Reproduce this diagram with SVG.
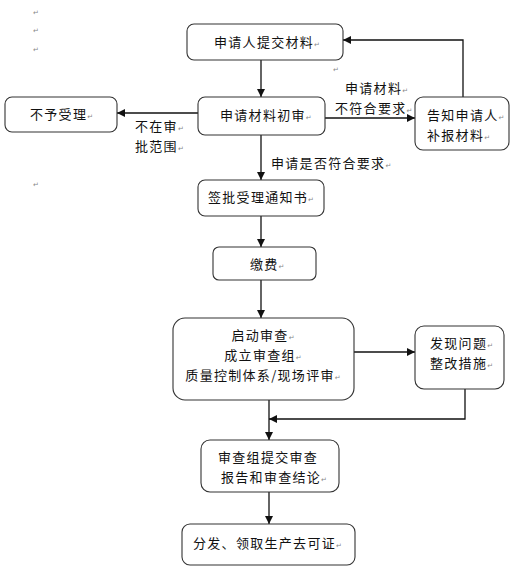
<svg xmlns="http://www.w3.org/2000/svg" width="531" height="580" viewBox="0 0 531 580">
<style>
.box{fill:#fff;stroke:#333;stroke-width:1.1}
.t{font-family:"Noto Sans CJK SC","Noto Sans",sans-serif;font-size:13px;fill:#111;letter-spacing:1.3px}
.m{font-family:"DejaVu Sans",sans-serif;font-size:7px;fill:#888;letter-spacing:0}
.ln{fill:none;stroke:#111;stroke-width:1.3}
</style>
<defs>
<marker id="ah" viewBox="0 0 10 10" refX="10" refY="5" markerWidth="8" markerHeight="8" markerUnits="userSpaceOnUse" orient="auto">
<path d="M0,0 L10,5 L0,10 z" fill="#111"/>
</marker>
</defs>
<rect width="531" height="580" fill="#fff"/>
<g id="marks">
<text class="m" x="33" y="15">↵</text>
<text class="m" x="33" y="33">↵</text>
<text class="m" x="33" y="52">↵</text>
<text class="m" x="33" y="187">↵</text>
<text class="m" x="333" y="72">↵</text>
</g>
<g id="connectors">
<path class="ln" d="M261,60 V97" marker-end="url(#ah)"/>
<path class="ln" d="M198,113 H117" marker-end="url(#ah)"/>
<path class="ln" d="M325,118 H415" marker-end="url(#ah)"/>
<path class="ln" d="M463,97 V40 H343" marker-end="url(#ah)"/>
<path class="ln" d="M261,135 V180" marker-end="url(#ah)"/>
<path class="ln" d="M261,216 V247" marker-end="url(#ah)"/>
<path class="ln" d="M261,280 V318" marker-end="url(#ah)"/>
<path class="ln" d="M354,352 H415" marker-end="url(#ah)"/>
<path class="ln" d="M465,389 V419 H269" marker-end="url(#ah)"/>
<path class="ln" d="M269,400 V440" marker-end="url(#ah)"/>
<path class="ln" d="M269,492 V524" marker-end="url(#ah)"/>
<text class="t" x="345" y="93">申请材料<tspan class="m">↵</tspan></text>
<text class="t" x="335" y="113">不符合要求<tspan class="m">↵</tspan></text>
<text class="t" x="135" y="131">不在审<tspan class="m">↵</tspan></text>
<text class="t" x="135" y="151">批范围<tspan class="m">↵</tspan></text>
<text class="t" x="271" y="168">申请是否符合要求<tspan class="m">↵</tspan></text>
</g>
<g id="n1"><rect class="box" x="187" y="24" width="156" height="36" rx="7"/><text class="t" x="214" y="47">申请人提交材料<tspan class="m">↵</tspan></text></g>
<g id="n2"><rect class="box" x="198" y="97" width="127" height="38" rx="7"/><text class="t" x="220" y="120">申请材料初审<tspan class="m">↵</tspan></text></g>
<g id="n3"><rect class="box" x="5" y="97" width="112" height="35" rx="7"/><text class="t" x="30" y="119">不予受理<tspan class="m">↵</tspan></text></g>
<g id="n4"><rect class="box" x="415" y="97" width="94" height="53" rx="8"/><text class="t" x="427" y="120">告知申请人<tspan class="m">↵</tspan></text><text class="t" x="427" y="140">补报材料<tspan class="m">↵</tspan></text></g>
<g id="n5"><rect class="box" x="198" y="180" width="126" height="36" rx="7"/><text class="t" x="208" y="202">签批受理通知书<tspan class="m">↵</tspan></text></g>
<g id="n6"><rect class="box" x="213" y="247" width="103" height="33" rx="6"/><text class="t" x="250" y="269">缴费<tspan class="m">↵</tspan></text></g>
<g id="n7"><rect class="box" x="173" y="318" width="181" height="82" rx="12"/><text class="t" text-anchor="middle" x="263" y="340">启动审查<tspan class="m">↵</tspan></text><text class="t" text-anchor="middle" x="263" y="360">成立审查组<tspan class="m">↵</tspan></text><text class="t" text-anchor="middle" x="263" y="380">质量控制体系/现场评审<tspan class="m">↵</tspan></text></g>
<g id="n8"><rect class="box" x="415" y="326" width="89" height="63" rx="9"/><text class="t" x="430" y="348">发现问题<tspan class="m">↵</tspan></text><text class="t" x="430" y="368">整改措施<tspan class="m">↵</tspan></text></g>
<g id="n9"><rect class="box" x="201" y="440" width="138" height="52" rx="9"/><text class="t" x="218" y="462">审查组提交审查</text><text class="t" x="221" y="482">报告和审查结论<tspan class="m">↵</tspan></text></g>
<g id="n10"><rect class="box" x="182" y="524" width="173" height="41" rx="8"/><text class="t" x="193" y="548">分发、领取生产去可证<tspan class="m">↵</tspan></text></g>
</svg>
